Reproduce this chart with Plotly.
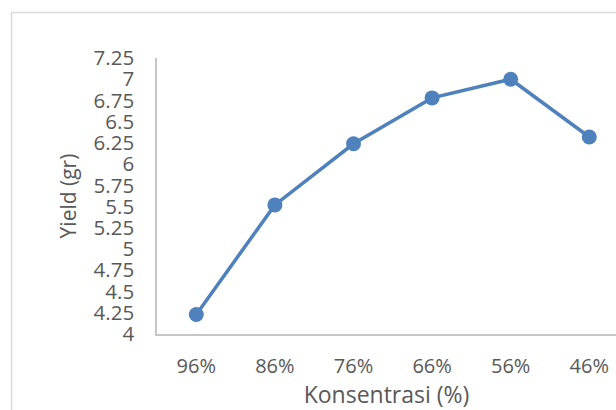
import plotly.graph_objects as go

# Yield of extract at each solvent concentration
konsentrasi = ["96%", "86%", "76%", "66%", "56%", "46%"]
yield_gr = [4.23, 5.52, 6.24, 6.78, 7.00, 6.32]

y_ticks = [4, 4.25, 4.5, 4.75, 5, 5.25, 5.5, 5.75, 6, 6.25, 6.5, 6.75, 7, 7.25]
y_tick_text = ["4", "4.25", "4.5", "4.75", "5", "5.25", "5.5", "5.75", "6",
               "6.25", "6.5", "6.75", "7", "7.25"]

TEXT = "#595959"
BLUE = "#4f81bd"
FONT = "Open Sans"

fig = go.Figure(
    go.Scatter(
        x=list(range(len(konsentrasi))),
        y=yield_gr,
        mode="lines+markers",
        line=dict(color=BLUE, width=3.5),
        marker=dict(color=BLUE, size=15),
        hoverinfo="skip",
    )
)

fig.update_layout(
    width=616,
    height=410,
    margin=dict(l=157, r=0, t=58, b=76),
    paper_bgcolor="white",
    plot_bgcolor="white",
    showlegend=False,
    font=dict(family=FONT, color=TEXT, size=20),
    xaxis=dict(
        range=[-0.5, 5.34],
        tickmode="array",
        tickvals=list(range(len(konsentrasi))),
        ticktext=konsentrasi,
        showgrid=False,
        zeroline=False,
        showline=True,
        linecolor="#c6c6c6",
        linewidth=1.5,
        ticks="",
        ticklabelstandoff=13,
        tickfont=dict(size=20, color=TEXT),
        title=dict(text="Konsentrasi (%)", font=dict(size=23, color=TEXT), standoff=9),
    ),
    yaxis=dict(
        range=[4, 7.25],
        tickmode="array",
        tickvals=y_ticks,
        ticktext=y_tick_text,
        showgrid=False,
        zeroline=False,
        showline=True,
        linecolor="#c6c6c6",
        linewidth=1.5,
        ticks="",
        ticklabelstandoff=17,
        tickfont=dict(size=20.5, color=TEXT),
        title=dict(text="Yield (gr)", font=dict(size=21, color=TEXT), standoff=11),
    ),
    shapes=[
        # outer chart frame (top and left edges visible)
        dict(
            type="path",
            xref="paper",
            yref="paper",
            path="M 1.2,1.165 L -0.317,1.165 L -0.317,-0.5",
            line=dict(color="#d9d9d9", width=1.5),
            layer="below",
        )
    ],
)

fig.write_html("out.html")
